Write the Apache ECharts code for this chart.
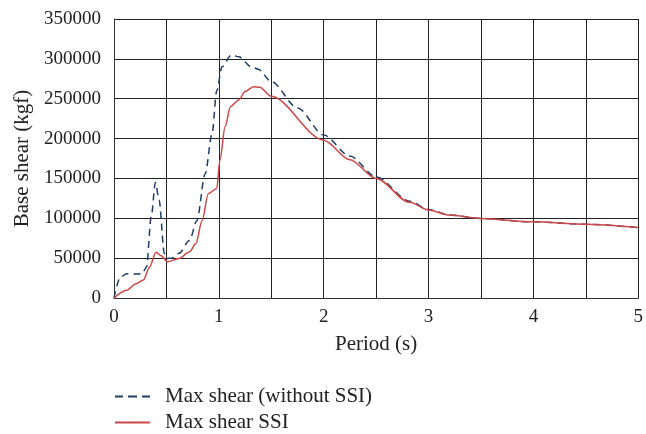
<!DOCTYPE html>
<html>
<head>
<meta charset="utf-8">
<script src="https://cdn.jsdelivr.net/npm/echarts@6/dist/echarts.min.js"></script>
<style>html,body{margin:0;padding:0;background:#fff;}#c{width:646px;height:434px;}</style>
</head>
<body>
<div id="c"></div>
<script>
const seriesNames = ['Max shear (without SSI)', 'Max shear SSI'];
const periodNoSSI = [0, 0.06, 0.12, 0.2, 0.27, 0.31, 0.355, 0.395, 0.43, 0.48, 0.5, 0.55, 0.62, 0.72, 0.79, 0.87, 0.935, 0.98, 1.03, 1.12, 1.19, 1.31, 1.375, 1.5, 1.75, 2.0, 2.25, 2.5, 2.82, 3.0, 3.2, 3.5, 4.0, 4.5, 5.0];
const shearNoSSI = [0, 26000, 30500, 30000, 30500, 39000, 102000, 145000, 123000, 56000, 49500, 50000, 56000, 72000, 97000, 156000, 206000, 260000, 290000, 305000, 302500, 290000, 287000, 271500, 238500, 204500, 178000, 152000, 121500, 111000, 104000, 99700, 95500, 92500, 88300];
const periodSSI = [0, 0.12, 0.21, 0.28, 0.34, 0.40, 0.45, 0.51, 0.62, 0.72, 0.78, 0.84, 0.9, 0.98, 1.01, 1.06, 1.11, 1.19, 1.25, 1.33, 1.39, 1.5, 2.0, 2.25, 2.5, 2.82, 3.0, 3.2, 3.5, 4.0, 4.5, 5.0];
const shearSSI = [0, 9700, 18000, 22500, 39000, 57500, 53000, 45500, 49500, 58000, 68000, 97000, 131000, 137500, 173000, 215000, 240000, 248500, 259000, 265000, 264500, 253000, 198000, 173500, 150000, 120000, 110500, 104000, 99700, 95500, 92500, 88300];
const xTicks = [0, 1, 2, 3, 4, 5];

const pairs = (xs, ys) => xs.map((x, i) => [x, ys[i]]);
const serif = '"Liberation Serif", "Times New Roman", serif';

const chart = echarts.init(document.getElementById('c'), null, {renderer: 'canvas'});
chart.setOption({
  animation: false,
  backgroundColor: '#fff',
  grid: {left: 114, right: 3, top: 19, bottom: 136, containLabel: false},
  legend: {
    orient: 'vertical', left: 115, top: 386, height: 48, padding: 0,
    itemWidth: 35, itemHeight: 2, itemGap: 5,
    textStyle: {fontFamily: serif, fontSize: 21, color: '#222', lineHeight: 21, padding: [0, 0, 0, 10]},
    data: [
      {name: seriesNames[0], icon: 'path://M0,0h8v2h-8z M13,0h9v2h-9z M27,0h8v2h-8z', itemStyle: {color: '#1f3d66'}},
      {name: seriesNames[1], icon: 'path://M0,0h35v2h-35z', itemStyle: {color: '#cc4747'}}
    ]
  },
  xAxis: {
    type: 'value', min: 0, max: 5, interval: 0.5,
    name: 'Period (s)', nameLocation: 'middle', nameGap: 36,
    nameTextStyle: {fontFamily: serif, fontSize: 21, color: '#222'},
    axisLine: {show: true, lineStyle: {color: '#333', width: 1}},
    axisTick: {show: false},
    axisLabel: {
      fontFamily: serif, fontSize: 19, color: '#222', margin: 10,
      formatter: v => (xTicks.indexOf(v) >= 0 ? String(v) : '')
    },
    splitLine: {show: true, lineStyle: {color: '#222', width: 1}}
  },
  yAxis: {
    type: 'value', min: 0, max: 350000, interval: 50000,
    name: 'Base shear (kgf)', nameLocation: 'middle', nameGap: 78, nameRotate: 90,
    nameTextStyle: {fontFamily: serif, fontSize: 21, color: '#222'},
    axisLine: {show: true, lineStyle: {color: '#333', width: 1}},
    axisTick: {show: false},
    axisLabel: {fontFamily: serif, fontSize: 19, color: '#222', margin: 13, formatter: v => String(v)},
    splitLine: {show: true, lineStyle: {color: '#222', width: 1}}
  },
  series: [
    {
      name: seriesNames[0], type: 'line', symbol: 'none', smooth: 0.3, smoothMonotone: 'x',
      data: pairs(periodNoSSI, shearNoSSI),
      lineStyle: {color: '#1f3d66', width: 1.5, type: [7, 5]},
      itemStyle: {color: '#1f3d66'}, z: 3
    },
    {
      name: seriesNames[1], type: 'line', symbol: 'none', smooth: 0.3, smoothMonotone: 'x',
      data: pairs(periodSSI, shearSSI),
      lineStyle: {color: '#cc4747', width: 1.5},
      itemStyle: {color: '#cc4747'}, z: 4
    }
  ]
});
</script>
</body>
</html>
